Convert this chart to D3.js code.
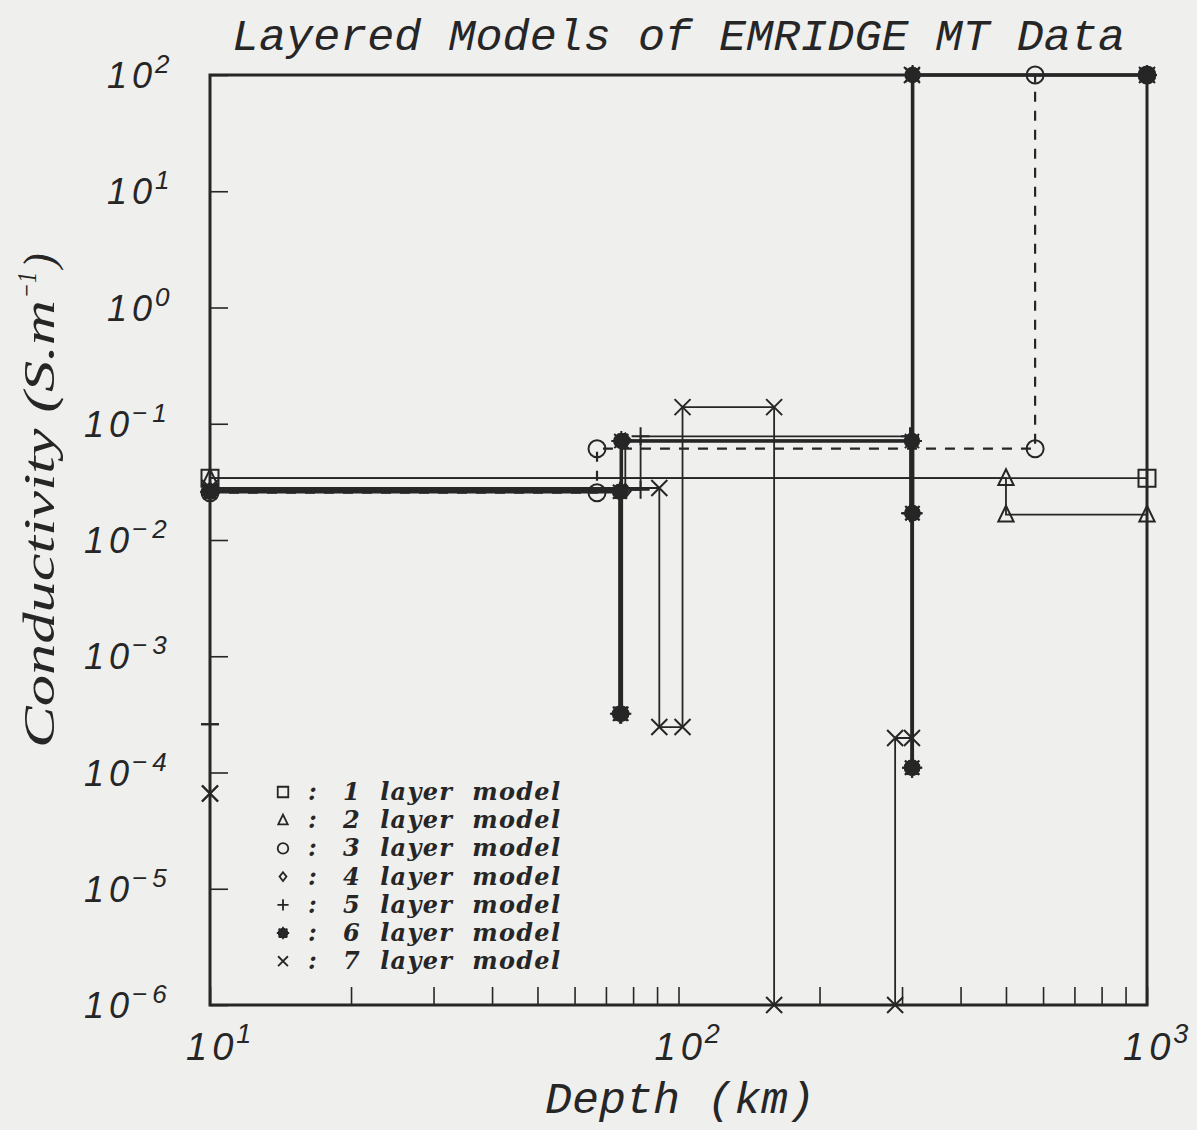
<!DOCTYPE html>
<html>
<head>
<meta charset="utf-8">
<script src="https://cdn.jsdelivr.net/npm/d3@7"></script>
<style>
  body { margin: 0; background: #efefed; }
  svg { display: block; }
</style>
</head>
<body>
<div id="chart"></div>
<script>
// axis ranges
const depthDomain = [10, 1000];
const condDomain = [1e-6, 1e2];

// layer bottoms (km) and layer conductivities (S/m), one pair per model
const model1Depths = [];
const model1Cond = [0.034];
const model2Depths = [500];
const model2Cond = [0.034, 0.0165];
const model3Depths = [67, 577];
const model3Cond = [0.0255, 0.061, 100];
const model4Depths = [9, 77, 315];
const model4Cond = [0.027, 0.0265, 0.072, 100];
const model5Depths = [9, 83, 312, 316];
const model5Cond = [2.6e-4, 0.027, 0.078, 0.017, 100];
const model6Depths = [75, 75.5, 315, 315.5, 316];
const model6Cond = [0.026, 3.2e-4, 0.071, 1.1e-4, 0.017, 100];
const model7Depths = [9, 91, 102, 160, 290, 315];
const model7Cond = [6.6e-5, 0.028, 2.46e-4, 0.139, 1e-6, 1.98e-4, 100];

const xTickLabels = [10, 100, 1000];
const yTickLabels = [1e2, 1e1, 1e0, 1e-1, 1e-2, 1e-3, 1e-4, 1e-5, 1e-6];
const legendLabels = ["1", "2", "3", "4", "5", "6", "7"];

const width = 1197, height = 1130;
const plot = { left: 210, right: 1147, top: 75, bottom: 1005 };
const ink = "#262626";

const svg = d3.select("#chart").append("svg").attr("width", width).attr("height", height);
svg.append("rect").attr("width", width).attr("height", height).attr("fill", "#efefed");

const x = d3.scaleLog().domain(depthDomain).range([plot.left, plot.right]);
const y = d3.scaleLog().domain(condDomain).range([plot.bottom, plot.top]);

// custom marker shapes
const r0 = s => Math.sqrt(s) / 2;
const symPlus = { draw(c, s) { const r = r0(s); c.moveTo(-r, 0); c.lineTo(r, 0); c.moveTo(0, -r); c.lineTo(0, r); } };
const symX = { draw(c, s) { const r = r0(s) * 0.8; c.moveTo(-r, -r); c.lineTo(r, r); c.moveTo(-r, r); c.lineTo(r, -r); } };
const symStar = { draw(c, s) {
  const r = r0(s), rc = r * 0.72;
  c.moveTo(rc, 0); c.arc(0, 0, rc, 0, 2 * Math.PI);
  for (let k = 0; k < 8; k++) {
    const a = k * Math.PI / 4;
    c.moveTo(0, 0); c.lineTo(r * Math.cos(a), r * Math.sin(a));
  }
} };
const symDiamond = { draw(c, s) { const r = r0(s); c.moveTo(0, -r); c.lineTo(r * 0.8, 0); c.lineTo(0, r); c.lineTo(-r * 0.8, 0); c.closePath(); } };
const symTri = { draw(c, s) { const r = r0(s); c.moveTo(0, -r); c.lineTo(r * 0.85, r * 0.75); c.lineTo(-r * 0.85, r * 0.75); c.closePath(); } };
const symSquare = { draw(c, s) { const r = r0(s); c.rect(-r, -r, 2 * r, 2 * r); } };
const symCircle = { draw(c, s) { const r = r0(s); c.moveTo(r, 0); c.arc(0, 0, r, 0, 2 * Math.PI); } };

const models = [
  { depths: model1Depths, cond: model1Cond, sym: symSquare, size: 17, fill: "none", lw: 1.8, dash: null },
  { depths: model2Depths, cond: model2Cond, sym: symTri, size: 18, fill: "none", lw: 1.8, dash: null },
  { depths: model3Depths, cond: model3Cond, sym: symCircle, size: 17, fill: "none", lw: 2.2, dash: "10,9" },
  { depths: model4Depths, cond: model4Cond, sym: symDiamond, size: 14, fill: "none", lw: 1.8, dash: null },
  { depths: model5Depths, cond: model5Cond, sym: symPlus, size: 18, fill: "none", lw: 1.8, dash: null },
  { depths: model6Depths, cond: model6Cond, sym: symStar, size: 20, fill: ink, lw: 3.6, dash: null },
  { depths: model7Depths, cond: model7Cond, sym: symX, size: 20, fill: "none", lw: 1.8, dash: null }
];

// turn layers into the corner points of a step curve, clipped to the depth range
function stepPoints(depths, cond) {
  const clamp = d => Math.max(depthDomain[0], Math.min(depthDomain[1], d));
  const pts = [];
  let top = depthDomain[0];
  cond.forEach((c, i) => {
    const bottom = i < depths.length ? depths[i] : depthDomain[1];
    pts.push([clamp(top), c], [clamp(bottom), c]);
    top = bottom;
  });
  return pts;
}

const line = d3.line().x(d => x(d[0])).y(d => y(d[1]));

// ticks inside the frame
svg.append("g")
  .attr("transform", `translate(0,${plot.bottom})`)
  .call(d3.axisBottom(x).tickValues(x.ticks()).tickSizeInner(-18).tickSizeOuter(0).tickFormat(""))
  .call(g => g.select(".domain").remove())
  .call(g => g.selectAll("line").attr("stroke", ink).attr("stroke-width", 1.6));

svg.append("g")
  .attr("transform", `translate(${plot.left},0)`)
  .call(d3.axisLeft(y).tickValues(yTickLabels).tickSizeInner(-18).tickSizeOuter(0).tickFormat(""))
  .call(g => g.select(".domain").remove())
  .call(g => g.selectAll("line").attr("stroke", ink).attr("stroke-width", 1.6));

// model curves
models.forEach(m => {
  const pts = stepPoints(m.depths, m.cond);
  svg.append("path").datum(pts)
    .attr("d", line)
    .attr("fill", "none")
    .attr("stroke", ink)
    .attr("stroke-width", m.lw)
    .attr("stroke-dasharray", m.dash);
});

// markers at every corner
models.forEach(m => {
  const pts = stepPoints(m.depths, m.cond);
  svg.append("g").selectAll("path").data(pts).join("path")
    .attr("transform", d => `translate(${x(d[0])},${y(d[1])})`)
    .attr("d", d3.symbol().type(m.sym).size(m.size * m.size))
    .attr("fill", m.fill)
    .attr("stroke", ink)
    .attr("stroke-width", 2);
});

// frame
svg.append("rect")
  .attr("x", plot.left).attr("y", plot.top)
  .attr("width", plot.right - plot.left).attr("height", plot.bottom - plot.top)
  .attr("fill", "none").attr("stroke", ink).attr("stroke-width", 3);

// tick labels
const exp = v => Math.round(Math.log10(v));
const labelFont = "'Liberation Sans', Arial, sans-serif";

yTickLabels.forEach(v => {
  const e = exp(v);
  const t = svg.append("text")
    .attr("x", e < 0 ? 84 : 107)
    .attr("y", y(v) + 13)
    .attr("font-family", labelFont)
    .attr("font-style", "italic")
    .attr("font-size", 36)
    .attr("fill", ink)
    .attr("letter-spacing", 5);
  t.append("tspan").text("10");
  t.append("tspan").attr("dy", -15).attr("font-size", 26).attr("dx", -2)
    .text(e < 0 ? "\u2212" + (-e) : String(e));
});

xTickLabels.forEach(v => {
  const e = exp(v);
  const t = svg.append("text")
    .attr("x", x(v) - 24)
    .attr("y", 1060)
    .attr("font-family", labelFont)
    .attr("font-style", "italic")
    .attr("font-size", 38)
    .attr("fill", ink)
    .attr("letter-spacing", 5);
  t.append("tspan").text("10");
  t.append("tspan").attr("dy", -17).attr("font-size", 27).attr("dx", -2).text(String(e));
});

// title and axis titles
svg.append("text")
  .attr("x", 232).attr("y", 50)
  .attr("font-family", "'Liberation Mono', 'Courier New', monospace")
  .attr("font-style", "italic")
  .attr("font-size", 44)
  .attr("textLength", 893)
  .attr("lengthAdjust", "spacingAndGlyphs")
  .attr("fill", ink)
  .text("Layered Models of EMRIDGE MT Data");

svg.append("text")
  .attr("x", 545).attr("y", 1113)
  .attr("font-family", "'Liberation Mono', 'Courier New', monospace")
  .attr("font-style", "italic")
  .attr("font-size", 44)
  .attr("textLength", 270)
  .attr("lengthAdjust", "spacingAndGlyphs")
  .attr("fill", ink)
  .text("Depth (km)");

// y title: stretched along the axis like the plotter lettering
const yTitle = svg.append("g").attr("transform", "translate(54,0) rotate(-90)")
  .attr("font-family", "'Liberation Serif', 'Times New Roman', serif")
  .attr("font-style", "italic")
  .attr("fill", ink);
yTitle.append("text").attr("x", -748).attr("y", 0).attr("font-size", 44)
  .attr("textLength", 448).attr("lengthAdjust", "spacingAndGlyphs")
  .text("Conductivity (S.m");
yTitle.append("text").attr("x", -298).attr("y", -18).attr("font-size", 28)
  .attr("textLength", 26).attr("lengthAdjust", "spacingAndGlyphs")
  .text("\u22121");
yTitle.append("text").attr("x", -268).attr("y", 0).attr("font-size", 44)
  .text(")");

// legend
const legend = svg.append("g");
models.forEach((m, i) => {
  const ly = 792 + i * 28.2;
  legend.append("path")
    .attr("transform", `translate(283,${ly})`)
    .attr("d", d3.symbol().type(m.sym).size(Math.pow(m.size * 0.62, 2)))
    .attr("fill", m.fill)
    .attr("stroke", ink)
    .attr("stroke-width", 1.8);
  legend.append("text")
    .attr("x", 308).attr("y", ly + 8)
    .attr("font-family", "'DejaVu Serif', serif")
    .attr("font-weight", "bold").attr("font-style", "italic")
    .attr("font-size", 24).attr("fill", ink)
    .text(":");
  legend.append("text")
    .attr("x", 343).attr("y", ly + 8)
    .attr("font-family", "'DejaVu Serif', serif")
    .attr("font-weight", "bold").attr("font-style", "italic")
    .attr("font-size", 24).attr("fill", ink)
    .attr("textLength", 217).attr("lengthAdjust", "spacing")
    .attr("xml:space", "preserve")
    .text(legendLabels[i] + "  layer  model");
});
</script>
</body>
</html>
